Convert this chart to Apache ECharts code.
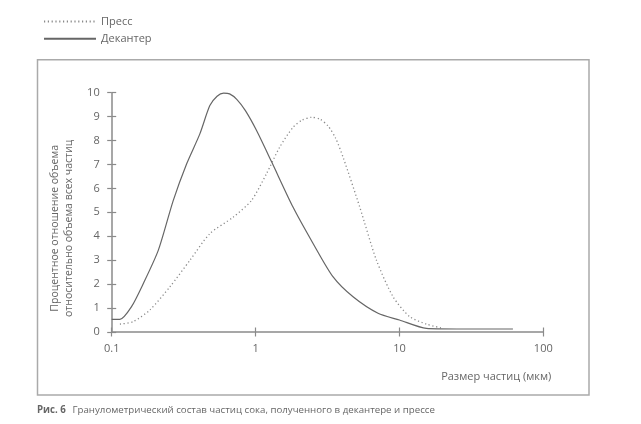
<!DOCTYPE html>
<html><head><meta charset="utf-8">
<script src="https://cdn.jsdelivr.net/npm/echarts@6/dist/echarts.min.js"></script>
<style>html,body{margin:0;padding:0;background:#fff}#c{width:641px;height:424px}</style>
</head><body><div id="c"></div>
<script>
var seriesNames = ['Пресс', 'Декантер'];
var pressX = [0.114, 0.141, 0.184, 0.254, 0.35, 0.481, 0.699, 0.937, 1.19, 1.47, 1.82, 2.1, 2.45, 2.8, 3.2, 3.6, 4.06, 5.3, 6.92, 9.04, 11.8, 15.4, 20.1];
var pressY = [0.33, 0.43, 0.92, 1.89, 3.0, 4.11, 4.8, 5.5, 6.61, 7.72, 8.55, 8.85, 8.97, 8.9, 8.6, 8.1, 7.3, 5.22, 3.0, 1.47, 0.64, 0.33, 0.15];
var decX = [0.1, 0.114, 0.137, 0.166, 0.211, 0.268, 0.332, 0.41, 0.481, 0.54, 0.6, 0.66, 0.74, 0.85, 1.016, 1.295, 1.82, 2.51, 3.46, 4.76, 7.1, 10, 15.4, 25, 61.5];
var decY = [0.53, 0.53, 1.05, 2.03, 3.42, 5.5, 7.03, 8.28, 9.46, 9.85, 9.98, 9.95, 9.72, 9.25, 8.42, 7.1, 5.22, 3.7, 2.3, 1.47, 0.78, 0.5, 0.15, 0.125, 0.125];
var xTicks = [0.1, 1, 10, 100];
var yTicks = [0, 1, 2, 3, 4, 5, 6, 7, 8, 9, 10];
var xTitle = 'Размер частиц (мкм)';
var yTitle = 'Процентное отношение объема\nотносительно объема всех частиц';
var captionBold = 'Рис. 6';
var captionText = 'Гранулометрический состав частиц сока, полученного в декантере и прессе';

function zip(a, b) { return a.map(function (v, i) { return [v, b[i]]; }); }

var chart = echarts.init(document.getElementById('c'), null, {renderer: 'canvas'});
var font = 'Open Sans';
var axisCol = '#8a8a8a';
chart.setOption({
  animation: false,
  textStyle: {fontFamily: font},
  grid: {left: 111.7, right: 97.7, top: 92.7, bottom: 92},
  legend: {
    orient: 'vertical', left: 38, top: 11, itemWidth: 52, itemHeight: 14, itemGap: 6,
    data: seriesNames,
    itemStyle: {opacity: 0},
    textStyle: {color: '#666', fontSize: 11, fontFamily: font}
  },
  xAxis: [{
    type: 'log', logBase: 10, min: 0.1, max: 100,
    axisLine: {lineStyle: {color: axisCol, width: 1.5}},
    axisTick: {length: 4.5, lineStyle: {color: axisCol, width: 1.2}},
    axisLabel: {color: '#666', fontSize: 11, margin: 11, formatter: function (v) { return xTicks.indexOf(v) >= 0 ? String(v) : ''; }},
    splitLine: {show: false}, minorTick: {show: false},
    name: xTitle, nameLocation: 'end', nameGap: 8,
    nameTextStyle: {color: '#666', fontSize: 11, align: 'right', verticalAlign: 'top', padding: [39, 0, 0, 0]}
  }, {
    type: 'log', logBase: 10, min: 0.1, max: 100, position: 'bottom',
    axisLine: {show: false},
    axisTick: {inside: true, length: 4.5, lineStyle: {color: axisCol, width: 1.2}},
    axisLabel: {show: false}, splitLine: {show: false}
  }],
  yAxis: [{
    type: 'value', min: 0, max: 10, interval: 1,
    axisLine: {show: true, lineStyle: {color: axisCol, width: 1.5}},
    axisTick: {show: true, length: 4.5, lineStyle: {color: axisCol, width: 1.2}},
    axisLabel: {color: '#666', fontSize: 11, margin: 12, formatter: function (v) { return yTicks.indexOf(v) >= 0 ? String(v) : ''; }},
    splitLine: {show: false},
    name: yTitle, nameLocation: 'middle', nameRotate: 90, nameGap: 33,
    nameTextStyle: {color: '#666', fontSize: 10.5, lineHeight: 14, align: 'center', padding: [0, 32, 0, 0]}
  }, {
    type: 'value', min: 0, max: 10, interval: 1, position: 'left',
    axisLine: {show: false},
    axisTick: {show: true, inside: true, length: 4.5, lineStyle: {color: axisCol, width: 1.2}},
    axisLabel: {show: false}, splitLine: {show: false}
  }],
  series: [{
    name: seriesNames[0], type: 'line', smooth: 0.25, symbol: 'none',
    lineStyle: {color: '#8a8a8a', width: 1.3, type: [1.2, 2.6]},
    itemStyle: {color: '#8a8a8a'},
    data: zip(pressX, pressY)
  }, {
    name: seriesNames[1], type: 'line', smooth: 0.25, symbol: 'none',
    lineStyle: {color: '#666', width: 1.2, type: 'solid'},
    itemStyle: {color: '#666'},
    data: zip(decX, decY)
  }],
  graphic: [{
    type: 'rect', silent: true,
    shape: {x: 37.5, y: 59.7, width: 551.5, height: 335.3},
    style: {fill: 'none', stroke: '#aaa', lineWidth: 1.5}
  }, {
    type: 'text', left: 37, top: 404,
    style: {
      text: '{b|' + captionBold + '}  {n|' + captionText + '}',
      rich: {
        b: {fontFamily: font, fontSize: 9.7, fontWeight: 'bold', fill: '#666'},
        n: {fontFamily: font, fontSize: 9.7, fill: '#666'}
      }
    }
  }]
});
</script></body></html>
